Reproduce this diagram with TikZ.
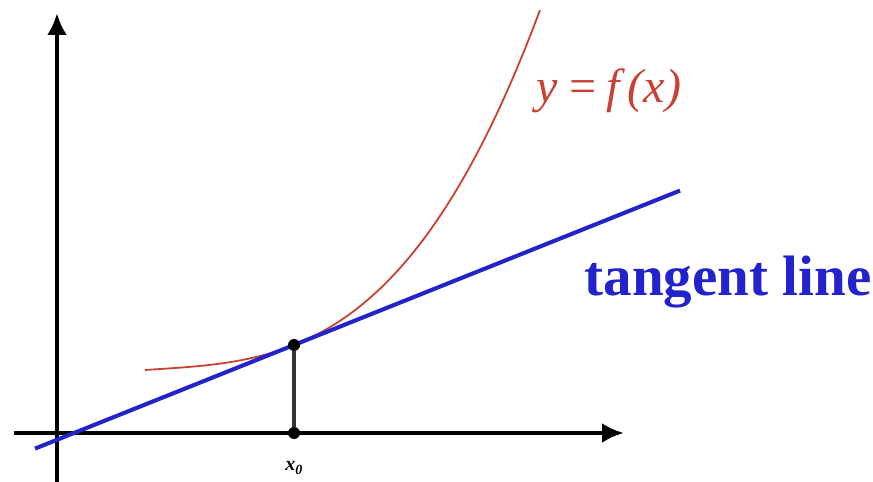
\documentclass[tikz,border=0pt]{standalone}
\usepackage{fontspec}
\setmainfont{Liberation Serif}
\usetikzlibrary{arrows.meta}
\definecolor{curvered}{RGB}{200,65,50}
\definecolor{tanblue}{RGB}{35,35,205}
\tikzset{
    axis/.style={line width=4.5pt, -{Latex[length=22pt,width=20pt]}},
    dot/.style={circle, fill=black, inner sep=0pt, minimum size=12pt}
}
\begin{document}
\begin{tikzpicture}[x=1pt,y=1pt]
        \useasboundingbox (0,0) rectangle (873,482);
        % axes
        \coordinate (xstart) at (14,49);
        \coordinate (xend) at (624,49);
        \coordinate (ystart) at (57,0);
        \coordinate (yend) at (57,469);
        \draw[axis] (xstart) -- (xend);
        \draw[axis] (ystart) -- (yend);
        % curve y = f(x)
        \draw[curvered, line width=1.8pt, domain=-1.49:2.46, samples=120, smooth]
            plot ({294+100*\x}, {137+40*\x+24.45*\x*\x+5.953*\x*\x*\x});
        % tangent line through the point
        \coordinate (tanA) at (35,33.4);
        \coordinate (tanB) at (680,291.4);
        \draw[tanblue, line width=4pt] (tanA) -- (tanB);
        \node[dot] (P) at (294,137) {};
        \node[dot] (X0) at (294,49) {};
        \draw[line width=4pt, black!80] (X0) -- (P);
        \node[curvered, font=\fontsize{48}{56}\selectfont\itshape] (flabel) at (609,391) {y\,=\,f\,(x)};
        \node[tanblue, font=\fontsize{57}{66}\selectfont\bfseries] (tlabel) at (728,200) {tangent line};
        \node[font=\fontsize{20}{24}\selectfont\bfseries\itshape] (x0label) at (294,14) {x\textsubscript{0}};
    \end{tikzpicture}
\end{document}
